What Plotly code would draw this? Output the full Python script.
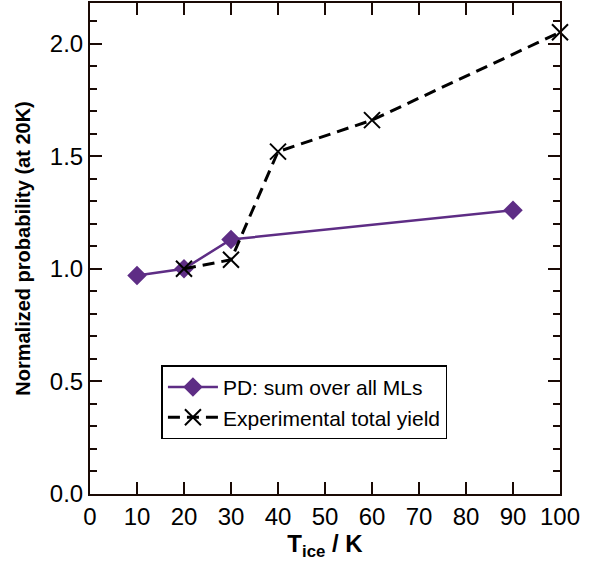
import plotly.graph_objects as go

pd_x = [10, 20, 30, 90]
pd_y = [0.97, 1.0, 1.13, 1.26]
exp_x = [20, 30, 40, 60, 100]
exp_y = [1.0, 1.04, 1.52, 1.66, 2.05]

purple = "#5e2d85"
axc = "#1a0a05"
font = "Liberation Sans, Arial"

fig = go.Figure()
fig.add_trace(go.Scatter(x=pd_x, y=pd_y, mode="lines+markers",
                         name="PD: sum over all MLs",
                         line=dict(color=purple, width=2.5),
                         marker=dict(symbol="diamond", size=15, color=purple),
                         cliponaxis=False))
fig.add_trace(go.Scatter(x=exp_x, y=exp_y, mode="lines+markers",
                         name="Experimental total yield",
                         line=dict(color="black", width=3, dash="12px,7px"),
                         marker=dict(symbol="x-thin", size=16, color="black",
                                     line=dict(width=2, color="black")),
                         cliponaxis=False))

axis_common = dict(showline=True, linecolor=axc, linewidth=2, mirror="ticks",
                   ticks="inside", tickcolor=axc, tickwidth=1.5,
                   showgrid=False, zeroline=False,
                   tickfont=dict(family=font, size=24, color="black"))

fig.update_xaxes(range=[0, 100], dtick=10, tick0=0, ticklen=12, **axis_common,
                 title=dict(text="<b>T<sub>ice</sub> / K</b>", standoff=2,
                            font=dict(family=font, size=24, color="black")))
fig.update_yaxes(range=[0, 2.18], dtick=0.5, tick0=0, ticklen=12, tickformat=".1f",
                 minor=dict(dtick=0.1, ticklen=7, ticks="inside", tickcolor=axc, tickwidth=1.5),
                 **axis_common,
                 title=dict(text="<b>Normalized probability (at 20K)</b>", standoff=14,
                            font=dict(family=font, size=20, color="black")))

fig.update_layout(
    width=609, height=567,
    margin=dict(l=90, r=49, t=1, b=73),
    plot_bgcolor="white", paper_bgcolor="white",
    legend=dict(x=0.152, y=0.262, xanchor="left", yanchor="top",
                bordercolor="black", borderwidth=1.5, bgcolor="white",
                font=dict(family=font, size=21, color="black"),
                itemwidth=50),
)

fig.write_html("out.html")
